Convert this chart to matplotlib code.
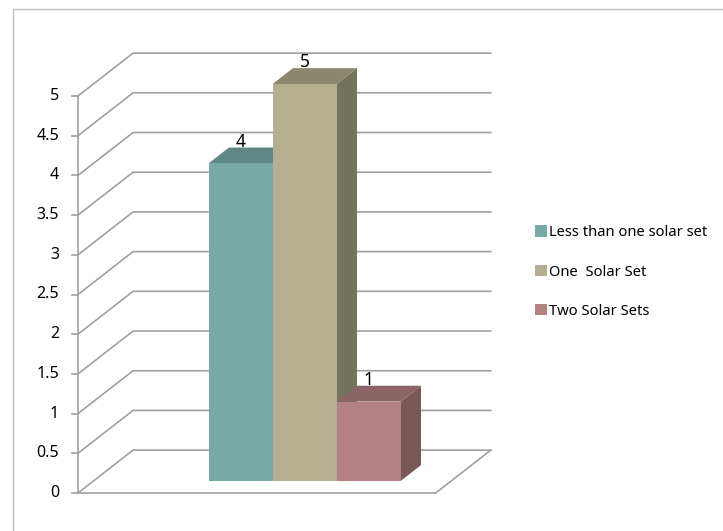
import matplotlib
matplotlib.use("Agg")
import matplotlib.pyplot as plt
from matplotlib.patches import Polygon, Patch
from matplotlib.lines import Line2D
import numpy as np

plt.rcParams['font.family'] = ['Noto Sans', 'DejaVu Sans']

# data
series = ['Less than one solar set', 'One  Solar Set', 'Two Solar Sets']
values = [4, 5, 1]
yticks = [0, 0.5, 1, 1.5, 2, 2.5, 3, 3.5, 4, 4.5, 5]
front_colors = ['#79a9a5', '#b4af90', '#b38084']
top_colors = ['#5e8683', '#8c8870', '#8b6466']
side_colors = ['#5a7e7b', '#74735d', '#7a585a']

# 3D look: offset of the back wall in data units
DX, DY = 0.86, 0.54
FLOOR_W = 5.59          # width of the floor at the front
BAR_D0, BAR_D1 = 0.28, 0.65   # bar front / back depth (fraction of DX, DY)
BAR_X0 = 1.8
grid_col = '#a0a0a0'


def proj(x, y, d):
    return (x + d * DX, y + d * DY)


fig = plt.figure(figsize=(7.23, 5.31), dpi=100)
ax = fig.add_axes([0, 0, 1, 1])
ax.set_xlim(-78 / 64, 645 / 64)
ax.set_ylim(-38 / 79.4, 493 / 79.4)
ax.axis('off')

# outer chart frame
fig.add_artist(Line2D([13 / 723, 13 / 723, 1], [0, 1 - 9 / 531, 1 - 9 / 531],
                      color='#c0c0c0', lw=1.0, transform=fig.transFigure))

# gridlines: diagonal on the side wall, then along the back wall
for v in yticks:
    x0, y0 = proj(0, v, 0)
    x1, y1 = proj(0, v, 1)
    x2, y2 = proj(FLOOR_W, v, 1)
    ax.plot([x0, x1, x2], [y0, y1, y2], color=grid_col, lw=1.2, zorder=1,
            solid_joinstyle='miter')
    ax.plot([-6 / 64, 0], [v, v], color=grid_col, lw=1.2, zorder=1)
    ax.text(-19 / 64, v, f'{v:g}', ha='right', va='center', fontsize=11.5)

# vertical axis and floor
ax.plot([0, 0], [0, yticks[-1]], color=grid_col, lw=1.2, zorder=1)
fx, fy = proj(FLOOR_W, 0, 1)
ax.plot([0, FLOOR_W, fx], [0, 0, fy], color=grid_col, lw=1.2, zorder=1,
        solid_joinstyle='miter')

# bars
for i, (val, cf, ct, cs) in enumerate(zip(values, front_colors, top_colors, side_colors)):
    xl, xr = BAR_X0 + i, BAR_X0 + i + 1
    side = [proj(xr, 0, BAR_D0), proj(xr, 0, BAR_D1), proj(xr, val, BAR_D1), proj(xr, val, BAR_D0)]
    top = [proj(xl, val, BAR_D0), proj(xl, val, BAR_D1), proj(xr, val, BAR_D1), proj(xr, val, BAR_D0)]
    front = [proj(xl, 0, BAR_D0), proj(xr, 0, BAR_D0), proj(xr, val, BAR_D0), proj(xl, val, BAR_D0)]
    ax.add_patch(Polygon(side, closed=True, fc=cs, ec='none', zorder=3))
    ax.add_patch(Polygon(top, closed=True, fc=ct, ec='none', zorder=3))
    ax.add_patch(Polygon(front, closed=True, fc=cf, ec='none', zorder=3))
    lx, _ = proj((xl + xr) / 2, val, BAR_D0)
    _, ly = proj(xl, val, BAR_D1)
    ax.text(lx, ly + 0.01, str(val), ha='center', va='baseline', fontsize=12.5, zorder=4)

handles = [Patch(fc=c, ec='none') for c in front_colors]
ax.legend(handles, series, loc='center left', bbox_to_anchor=(529 / 723, 1 - 272 / 531),
          frameon=False, fontsize=10.6, handlelength=0.8, handleheight=0.8,
          handletextpad=0.15, labelspacing=1.65, borderaxespad=0)

fig.savefig('out.png', dpi=100)
